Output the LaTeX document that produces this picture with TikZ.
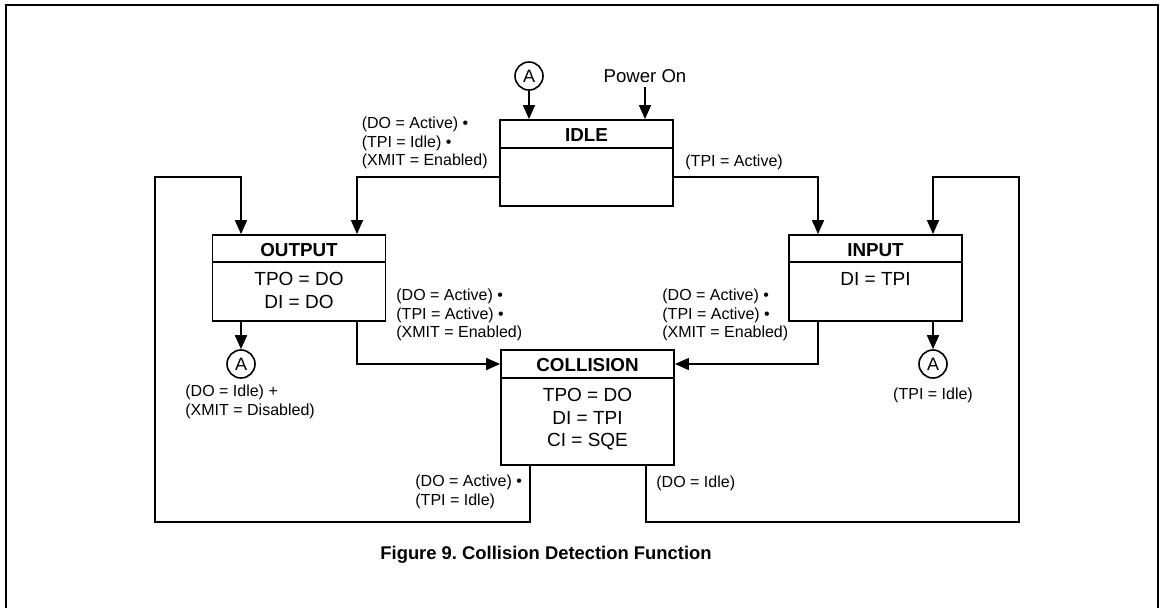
\documentclass[tikz,border=0pt]{standalone}
\usepackage{fontspec}
\setmainfont{Liberation Sans}
\usepackage{tikz}
\usetikzlibrary{arrows.meta, positioning, calc}
\frenchspacing

\tikzset{
  statebox/.style={draw, line width=0.9pt, minimum width=86.5pt, inner sep=0pt},
  statetitle/.style={font=\fontsize{9.4}{11}\selectfont\bfseries},
  statebody/.style={font=\fontsize{9.5}{11.2}\selectfont, align=center, inner sep=0pt, anchor=north},
  cond/.style={font=\fontsize{8}{9.4}\selectfont, align=left, inner sep=0pt},
  conn/.style={line width=0.8pt, -{Triangle[length=7pt, width=6pt]}},
  link/.style={draw, circle, line width=0.8pt, minimum size=14pt, inner sep=0pt, font=\fontsize{9}{10}\selectfont},
}

\begin{document}
\begin{tikzpicture}[x=0.5pt, y=-0.5pt]
  \useasboundingbox (0,0) rectangle (1161,607);
  % frame
  \draw[line width=1pt] (6,612) -- (6,5) -- (1158,5) -- (1158,612);

  % states
  \node[statebox, minimum height=43pt] (idle) at (586.5,163) {};
  \draw[line width=0.9pt] ([yshift=-14.5pt]idle.north west) -- ([yshift=-14.5pt]idle.north east);
  \node[statetitle] (idlet) at (586.5,135) {IDLE};

  \node[statebox, minimum height=43pt] (output) at (299,278) {};
  \draw[line width=0.9pt] ([yshift=-14pt]output.north west) -- ([yshift=-14pt]output.north east);
  \node[statetitle] (outputt) at (299,250) {OUTPUT};
  \node[statebody] (outputb) at (299,272) {TPO = DO\\DI = DO};

  \node[statebox, minimum height=43pt] (input) at (875.5,278) {};
  \draw[line width=0.9pt] ([yshift=-14pt]input.north west) -- ([yshift=-14pt]input.north east);
  \node[statetitle] (inputt) at (875.5,250) {INPUT};
  \node[statebody] (inputb) at (875.5,272) {DI = TPI};

  \node[statebox, minimum height=57.5pt] (collision) at (587.5,407.5) {};
  \draw[line width=0.9pt] ([yshift=-14.5pt]collision.north west) -- ([yshift=-14.5pt]collision.north east);
  \node[statetitle] (collisiont) at (587.5,365) {COLLISION};
  \node[statebody] (collisionb) at (587.5,388) {TPO = DO\\DI = TPI\\CI = SQE};

  % entry points
  \node[link] (atop) at (529,76) {A};
  \node[font=\fontsize{9.3}{11}\selectfont, inner sep=2pt] (pwr) at (645,76) {Power On};
  \draw[conn] (atop) -- (atop |- idle.north);
  \draw[conn] (pwr.south) -- (pwr.south |- idle.north);

  % idle exits
  \draw[conn] ([yshift=-7pt]idle.west) -| ([xshift=29pt]output.north);
  \draw[conn] ([yshift=-7pt]idle.east) -| ([xshift=-28.75pt]input.north);
  \node[cond, anchor=east] (c1) at (488,143) {(DO = Active) \textbullet\\(TPI = Idle) \textbullet\\(XMIT = Enabled)};
  \node[cond, anchor=west] (c2) at (685,162) {(TPI = Active)};

  % back to A
  \node[link] (aout) at (241,364) {A};
  \node[link] (ain) at (933,364) {A};
  \draw[conn] (output.south -| aout) -- (aout);
  \draw[conn] (input.south -| ain) -- (ain);
  \node[cond, anchor=west] (c3) at (185,402) {(DO = Idle) +\\(XMIT = Disabled)};
  \node[cond] (c4) at (933,395) {(TPI = Idle)};

  % into collision
  \draw[conn] ([xshift=29pt]output.south) |- ([yshift=21.75pt]collision.west);
  \draw[conn] ([xshift=-28.75pt]input.south) |- ([yshift=21.75pt]collision.east);
  \node[cond, anchor=west] (c5) at (396,315) {(DO = Active) \textbullet\\(TPI = Active) \textbullet\\(XMIT = Enabled)};
  \node[cond, anchor=west] (c6) at (662,315) {(DO = Active) \textbullet\\(TPI = Active) \textbullet\\(XMIT = Enabled)};

  % out of collision
  \coordinate (lbot) at (155,522);
  \coordinate (ltop) at (241,177);
  \coordinate (rbot) at (1019,522);
  \coordinate (rtop) at (933,177);
  \draw[conn] ([xshift=-28.75pt]collision.south) |- (lbot) |- (ltop) -- (ltop |- output.north);
  \draw[conn] ([xshift=29.25pt]collision.south) |- (rbot) |- (rtop) -- (rtop |- input.north);
  \node[cond, anchor=west] (c7) at (415,492) {(DO = Active) \textbullet\\(TPI = Idle)};
  \node[cond, anchor=west] (c8) at (656,483) {(DO = Idle)};

  % caption
  \node[font=\fontsize{9.2}{11}\selectfont\bfseries] (cap) at (546,555) {Figure 9. Collision Detection Function};
\end{tikzpicture}
\end{document}
